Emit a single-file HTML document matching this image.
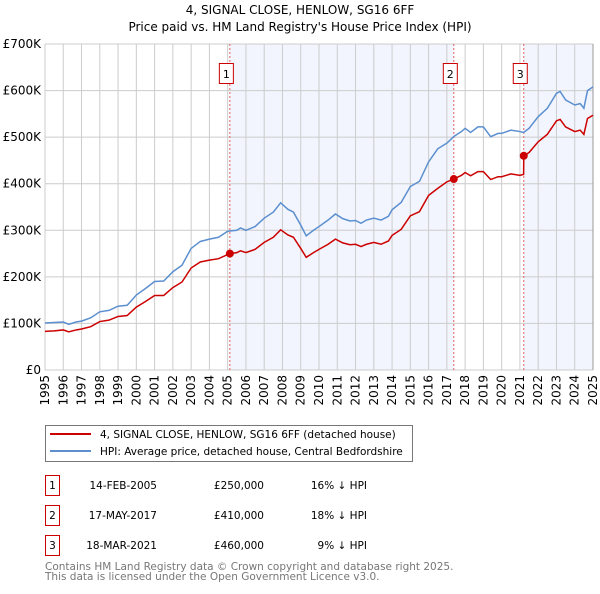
<!DOCTYPE html>
<html><head><meta charset="utf-8">
<style>
body{margin:0;background:#fff;width:600px;height:590px;overflow:hidden;font-family:"DejaVu Sans","Liberation Sans",sans-serif;}
svg text{font-family:"DejaVu Sans","Liberation Sans",sans-serif;}
</style></head>
<body>
<svg id="chart" width="600" height="590">
<text x="300" y="14" text-anchor="middle" font-size="12">4, SIGNAL CLOSE, HENLOW, SG16 6FF</text>
<text x="300" y="31" text-anchor="middle" font-size="12">Price paid vs. HM Land Registry's House Price Index (HPI)</text>
<g id="plot"></g>
<g>
<rect x="45.5" y="425.5" width="367" height="36" fill="#fff" stroke="#777"/>
<line x1="50" y1="434" x2="91" y2="434" stroke="#cc0000" stroke-width="2"/>
<text x="100" y="438" font-size="10.5">4, SIGNAL CLOSE, HENLOW, SG16 6FF (detached house)</text>
<line x1="50" y1="451" x2="91" y2="451" stroke="#5b8fd0" stroke-width="2"/>
<text x="100" y="455" font-size="10.5">HPI: Average price, detached house, Central Bedfordshire</text>
</g>
<g font-size="10.5">
<rect x="45.5" y="475.5" width="14" height="20" fill="none" stroke="#cc0000"/><text x="52.5" y="489" text-anchor="middle">1</text>
<text x="157" y="489" text-anchor="end">14-FEB-2005</text><text x="264" y="489" text-anchor="end">£250,000</text><text x="367" y="489" text-anchor="end">16% ↓ HPI</text>
<rect x="45.5" y="505.5" width="14" height="20" fill="none" stroke="#cc0000"/><text x="52.5" y="519" text-anchor="middle">2</text>
<text x="157" y="519" text-anchor="end">17-MAY-2017</text><text x="264" y="519" text-anchor="end">£410,000</text><text x="367" y="519" text-anchor="end">18% ↓ HPI</text>
<rect x="45.5" y="535.5" width="14" height="20" fill="none" stroke="#cc0000"/><text x="52.5" y="549" text-anchor="middle">3</text>
<text x="157" y="549" text-anchor="end">18-MAR-2021</text><text x="264" y="549" text-anchor="end">£460,000</text><text x="367" y="549" text-anchor="end">9% ↓ HPI</text>
</g>
<text x="45" y="570" font-size="10.5" fill="#777">Contains HM Land Registry data © Crown copyright and database right 2025.</text>
<text x="45" y="580" font-size="10.5" fill="#777">This data is licensed under the Open Government Licence v3.0.</text>
</svg>
<script>
const yTicks=[0,100000,200000,300000,400000,500000,600000,700000];
const yTickLabels=["£0","£100K","£200K","£300K","£400K","£500K","£600K","£700K"];
const xYears=[1995,1996,1997,1998,1999,2000,2001,2002,2003,2004,2005,2006,2007,2008,2009,2010,2011,2012,2013,2014,2015,2016,2017,2018,2019,2020,2021,2022,2023,2024,2025];
const hpiDates=[1995.0,1995.5,1996.0,1996.3,1996.7,1997.0,1997.5,1998.0,1998.5,1999.0,1999.5,2000.0,2000.5,2001.0,2001.5,2002.0,2002.5,2003.0,2003.5,2004.0,2004.5,2005.0,2005.5,2005.7,2006.0,2006.5,2007.0,2007.5,2007.9,2008.3,2008.6,2009.0,2009.3,2009.7,2010.0,2010.5,2010.9,2011.3,2011.7,2012.0,2012.3,2012.6,2013.0,2013.4,2013.8,2014.0,2014.5,2015.0,2015.5,2016.0,2016.5,2017.0,2017.4,2017.8,2018.0,2018.3,2018.7,2019.0,2019.4,2019.8,2020.0,2020.5,2021.0,2021.2,2021.5,2022.0,2022.5,2023.0,2023.2,2023.5,2024.0,2024.3,2024.5,2024.7,2025.0];
const hpiValues=[101,102,103,98,103,105,112,125,128,137,139,161,175,190,191,211,225,261,276,281,285,298,300,305,300,308,326,339,359,345,339,311,288,300,308,322,335,325,320,321,315,322,326,322,330,344,360,394,405,447,475,487,502,512,519,510,522,522,501,508,508,515,512,510,519,544,562,594,598,580,569,572,562,600,608];
const priceDates=[1995.0,1995.5,1996.0,1996.3,1996.7,1997.0,1997.5,1998.0,1998.5,1999.0,1999.5,2000.0,2000.5,2001.0,2001.5,2002.0,2002.5,2003.0,2003.5,2004.0,2004.5,2005.12,2005.5,2005.7,2006.0,2006.5,2007.0,2007.5,2007.9,2008.3,2008.6,2009.0,2009.3,2009.7,2010.0,2010.5,2010.9,2011.3,2011.7,2012.0,2012.3,2012.6,2013.0,2013.4,2013.8,2014.0,2014.5,2015.0,2015.5,2016.0,2016.5,2017.0,2017.38,2017.8,2018.0,2018.3,2018.7,2019.0,2019.4,2019.8,2020.0,2020.5,2021.0,2021.2,2021.21,2021.5,2022.0,2022.5,2023.0,2023.2,2023.5,2024.0,2024.3,2024.5,2024.7,2025.0];
const priceValues=[83,84,86,82,86,88,93,104,107,115,117,135,147,160,160,177,189,219,232,236,239,250,252,256,252,259,274,285,301,290,285,261,242,252,259,270,281,273,269,270,265,270,274,270,277,289,302,331,340,375,390,404,410,418,424,417,426,426,409,415,415,421,418,420,460,467,490,506,535,538,522,512,515,506,540,547];
const saleDates=[2005.12,2017.38,2021.21];
const salePrices=[250000,410000,460000];
const saleLabels=["1","2","3"];

const L=45,R=593,T=44,B=370;
const X=d=>L+(d-1995)/30*(R-L);
const Y=v=>B-v/700000*(B-T);
const NS="http://www.w3.org/2000/svg";
const g=document.getElementById('plot');
function mk(tag,at){const e=document.createElementNS(NS,tag);for(const k in at)e.setAttribute(k,at[k]);g.appendChild(e);return e;}

let s1=mk('rect',{x:X(saleDates[0]),y:T,width:X(saleDates[1])-X(saleDates[0]),height:B-T,fill:'#f2f5fd'});


let s2=mk('rect',{x:X(saleDates[2]),y:T,width:R-X(saleDates[2]),height:B-T,fill:'#f2f5fd'});



yTicks.forEach((t,i)=>{
  let l=mk('line',{x1:L,x2:R,y1:Y(t),y2:Y(t),stroke:'#cccccc','stroke-width':1});
  
  
  let tx=mk('text',{x:L-4,y:Y(t)+4,'text-anchor':'end','font-size':12});
  tx.textContent=yTickLabels[i];
  
  
});
xYears.forEach(yr=>{
  let l=mk('line',{x1:X(yr),x2:X(yr),y1:T,y2:B,stroke:yr===2025?'#999':'#cccccc','stroke-width':1});
  
  
  let tx=mk('text',{x:0,y:0,'text-anchor':'end','font-size':12,transform:`translate(${X(yr)+4},${B+5}) rotate(-90)`});
  tx.textContent=yr;
  
  
});
saleDates.forEach((d,i)=>{
  let l=mk('line',{x1:X(d),x2:X(d),y1:T,y2:B,stroke:'#e06060','stroke-width':1,'stroke-dasharray':'2,2'});
  
  
  let r=mk('rect',{x:X(d)-10.5,y:63.5,width:14,height:20,fill:'#fff',stroke:'#cc0000'});
  
  
  let t=mk('text',{x:X(d)-3.5,y:78,'text-anchor':'middle','font-size':11});
  t.textContent=saleLabels[i];
  
  
});
let hp=mk('polyline',{points:hpiDates.map((d,i)=>X(d)+','+Y(hpiValues[i]*1000)).join(' '),fill:'none',stroke:'#5b8fd0','stroke-width':1.5});


let pp=mk('polyline',{points:priceDates.map((d,i)=>X(d)+','+Y(priceValues[i]*1000)).join(' '),fill:'none',stroke:'#cc0000','stroke-width':1.5});


saleDates.forEach((d,i)=>{
  let c=mk('circle',{cx:X(d),cy:Y(salePrices[i]),r:4,fill:'#cc0000'});
  
  
});
</script>
</body></html>
